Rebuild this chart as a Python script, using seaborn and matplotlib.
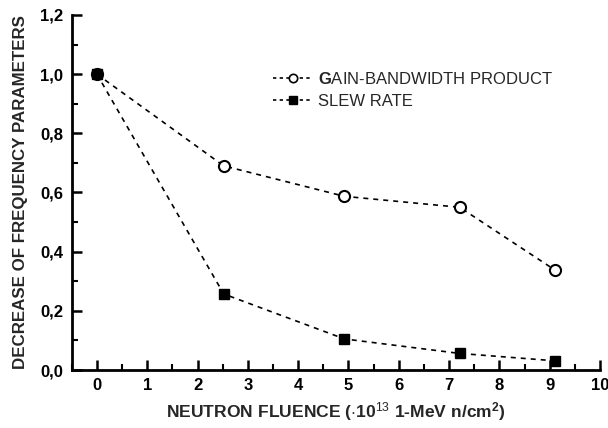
import matplotlib
matplotlib.use("Agg")
import matplotlib.pyplot as plt
import seaborn as sns
import pandas as pd
from matplotlib.lines import Line2D
from matplotlib.ticker import MultipleLocator, FixedLocator, FixedFormatter

# Data
fluence = [0.0, 2.52, 4.92, 7.21, 9.11]
gbw = [1.0, 0.690, 0.587, 0.550, 0.337]
slew = [1.0, 0.257, 0.105, 0.056, 0.031]
series_names = ["GAIN-BANDWIDTH PRODUCT", "SLEW RATE"]
xticks = [0, 1, 2, 3, 4, 5, 6, 7, 8, 9, 10]
yticks = [0.0, 0.2, 0.4, 0.6, 0.8, 1.0, 1.2]
yticklabels = ["0,0", "0,2", "0,4", "0,6", "0,8", "1,0", "1,2"]

sns.set_theme(style="white")
plt.rcParams["font.family"] = ["Liberation Sans", "DejaVu Sans"]
plt.rcParams["mathtext.fontset"] = "custom"
plt.rcParams["mathtext.rm"] = "Liberation Sans"
plt.rcParams["mathtext.bf"] = "Liberation Sans:bold"
plt.rcParams["mathtext.it"] = "Liberation Sans:italic"

df = pd.DataFrame({
    "x": fluence * 2,
    "y": gbw + slew,
    "series": [series_names[0]] * len(fluence) + [series_names[1]] * len(fluence),
})

fig = plt.figure(figsize=(6.08, 4.28), dpi=100)
ax = fig.add_axes([0.118, 0.1355, 0.869, 0.8295])

sns.lineplot(data=df[df.series == series_names[0]], x="x", y="y", ax=ax,
             color="black", linestyle=(0, (3, 3)), linewidth=1.2,
             marker="o", markersize=8, markerfacecolor="white",
             markeredgecolor="black", markeredgewidth=1.5, legend=False)
sns.lineplot(data=df[df.series == series_names[1]], x="x", y="y", ax=ax,
             color="black", linestyle=(0, (3, 3)), linewidth=1.2,
             marker="s", markersize=7.5, markerfacecolor="black",
             markeredgecolor="black", markeredgewidth=1.0, legend=False)

ax.set_xlim(-0.5, 10)
ax.set_ylim(0, 1.2)
ax.xaxis.set_major_locator(FixedLocator(xticks))
ax.xaxis.set_minor_locator(MultipleLocator(0.5))
ax.yaxis.set_major_locator(FixedLocator(yticks))
ax.yaxis.set_major_formatter(FixedFormatter(yticklabels))
ax.yaxis.set_minor_locator(MultipleLocator(0.1))

for s in ["top", "right"]:
    ax.spines[s].set_visible(False)
for s in ["left", "bottom"]:
    ax.spines[s].set_linewidth(2)
    ax.spines[s].set_color("black")

ax.tick_params(which="major", direction="in", length=7, width=1.8, colors="black",
               labelsize=12, pad=6)
ax.tick_params(which="minor", direction="in", length=4, width=1.5, colors="black")
ax.tick_params(axis="both", which="both", bottom=True, left=True)
for lab in ax.get_xticklabels() + ax.get_yticklabels():
    lab.set_fontweight("bold")

ax.set_xlabel(r"NEUTRON FLUENCE ($\cdot$10$^{\mathrm{13}}$ 1-MeV n/cm$^{\mathbf{2}}$)",
              fontsize=12.6, fontweight="bold", labelpad=5)
ax.set_ylabel("DECREASE OF FREQUENCY PARAMETERS", fontsize=12.2, fontweight="bold",
              labelpad=9)

handles = [
    Line2D([], [], color="black", linestyle=(0, (2, 2)), linewidth=1.2, marker="o",
           markersize=6, markerfacecolor="white", markeredgecolor="black",
           markeredgewidth=1.2),
    Line2D([], [], color="black", linestyle=(0, (2, 2)), linewidth=1.2, marker="s",
           markersize=6, markerfacecolor="black", markeredgecolor="black"),
]
labels = [r"$\mathbf{G}$AIN-BANDWIDTH PRODUCT", series_names[1]]
ax.legend(handles, labels, loc="upper left", bbox_to_anchor=(0.352, 0.885),
          frameon=False, fontsize=12, handlelength=2.4, handletextpad=0.3,
          labelspacing=0.45)

fig.savefig("out.png", dpi=100)
